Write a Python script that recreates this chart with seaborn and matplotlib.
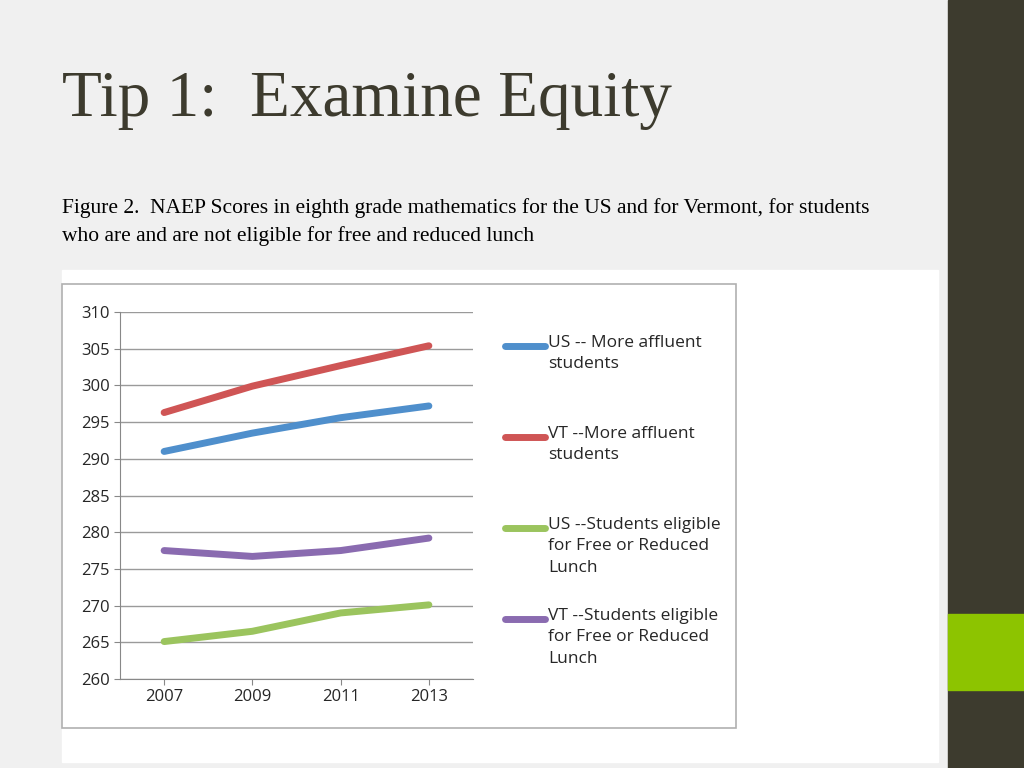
import matplotlib
matplotlib.use("Agg")
import matplotlib.pyplot as plt
import seaborn as sns
import pandas as pd
from matplotlib.patches import Rectangle
from matplotlib.lines import Line2D

years = ["2007", "2009", "2011", "2013"]
us_affluent = [291.0, 293.5, 295.6, 297.2]
vt_affluent = [296.3, 299.9, 302.7, 305.4]
us_frl = [265.1, 266.5, 269.0, 270.1]
vt_frl = [277.5, 276.7, 277.5, 279.2]
series = ["US -- More affluent\nstudents", "VT --More affluent\nstudents",
          "US --Students eligible\nfor Free or Reduced\nLunch",
          "VT --Students eligible\nfor Free or Reduced\nLunch"]
colors = ["#4f8fcc", "#cf5555", "#9bc45e", "#8a6bb0"]

rows = []
for name, vals in zip(series, [us_affluent, vt_affluent, us_frl, vt_frl]):
    for y, v in zip(years, vals):
        rows.append({"year": y, "score": v, "series": name})
df = pd.DataFrame(rows)

sns.set_style("white")
fig = plt.figure(figsize=(10.24, 7.68), dpi=100)
fig.patch.set_facecolor("#f0f0f0")
fig.add_artist(Rectangle((948/1024, 0), 76/1024, 1, transform=fig.transFigure, color="#3d3b2e", zorder=-5))
fig.add_artist(Rectangle((948/1024, 1-690/768), 76/1024, 76/768, transform=fig.transFigure, color="#8dc400", zorder=-4))
fig.add_artist(Rectangle((62/1024, 1-762/768), 876/1024, 492/768, transform=fig.transFigure, color="white", zorder=-5))
fig.add_artist(Rectangle((62/1024, 1-728/768), 674/1024, 444/768, transform=fig.transFigure,
                         facecolor="white", edgecolor="#b0b0b0", lw=1.2, zorder=-4))

fig.text(62/1024, 1-100/768, "Tip 1:  Examine Equity", family="Liberation Serif",
         fontsize=47, color="#3d3b2e", va="center")
fig.text(62/1024, 1-222/768,
         "Figure 2.  NAEP Scores in eighth grade mathematics for the US and for Vermont, for students\nwho are and are not eligible for free and reduced lunch",
         family="Liberation Serif", fontsize=15.5, color="black", va="center", linespacing=1.5)

ax = fig.add_axes([120/1024, 1-679/768, 353/1024, 367/768])
ax.set_zorder(5)
ax.patch.set_alpha(0)
sns.lineplot(data=df, x="year", y="score", hue="series", palette=colors, lw=5,
             ax=ax, legend=False, sort=False)
ax.set_ylim(260, 310)
ax.set_yticks(range(260, 311, 5))
ax.set_xlim(-0.5, 3.5)
ax.set_xlabel("")
ax.set_ylabel("")
ax.grid(axis="y", color="#9a9a9a", lw=1)
ax.set_axisbelow(True)
for s in ["top", "right"]:
    ax.spines[s].set_visible(False)
ax.spines["left"].set_color("#888888")
ax.spines["bottom"].set_color("#888888")
ax.tick_params(labelsize=12, length=4, direction="out", left=True, bottom=True, color="#888888")
for lab in ax.get_xticklabels() + ax.get_yticklabels():
    lab.set_family("Open Sans")

leg_y = [346, 437, 528, 619]
for name, c, y in zip(series, colors, leg_y):
    fig.add_artist(Line2D([505/1024, 545/1024], [1-y/768]*2, transform=fig.transFigure, color=c, lw=5))
    fig.text(548/1024, 1-(y-11)/768, name, va="top", fontsize=12.5, family="Open Sans", linespacing=1.45)

fig.savefig("out.png", dpi=100, facecolor=fig.get_facecolor())
